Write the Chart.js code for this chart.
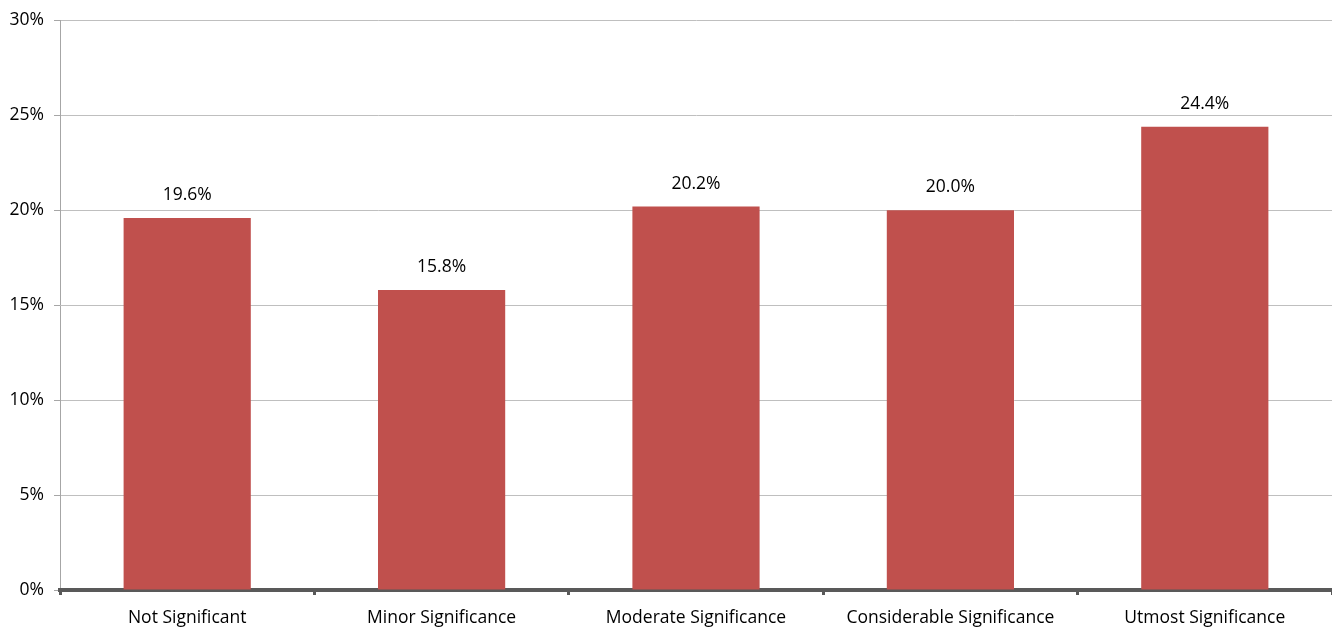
<!DOCTYPE html>
<html>
<head>
<meta charset="utf-8">
<script src="https://cdn.jsdelivr.net/npm/chart.js@4"></script>
<style>
  html, body { margin: 0; padding: 0; background: #fff; }
  #wrap { width: 1332px; height: 631px; position: relative; }
</style>
</head>
<body>
<div id="wrap"><canvas id="sigChart"></canvas></div>
<script>
const categories = ['Not Significant', 'Minor Significance', 'Moderate Significance', 'Considerable Significance', 'Utmost Significance'];
const shares = [19.6, 15.8, 20.2, 20.0, 24.4];
const yTicks = [0, 5, 10, 15, 20, 25, 30];

const FONT = '"Open Sans", sans-serif';
const FSIZE = 17.5;

// draw the value labels above each bar
const barLabels = {
  id: 'barLabels',
  afterDatasetsDraw(chart) {
    const ctx = chart.ctx;
    const meta = chart.getDatasetMeta(0);
    ctx.save();
    ctx.font = FSIZE + 'px ' + FONT;
    ctx.fillStyle = '#000';
    ctx.textAlign = 'center';
    ctx.textBaseline = 'middle';
    meta.data.forEach((bar, i) => {
      ctx.fillText(shares[i].toFixed(1) + '%', bar.x, bar.y - 23);
    });
    ctx.restore();
  }
};

const ctx = document.getElementById('sigChart').getContext('2d');
const myChart = new Chart(ctx, {
  type: 'bar',
  data: {
    labels: categories,
    datasets: [{
      data: shares,
      backgroundColor: '#C0504D',
      borderWidth: 0,
      barPercentage: 1,
      categoryPercentage: 0.5
    }]
  },
  options: {
    responsive: true,
    maintainAspectRatio: false,
    animation: false,
    layout: { padding: { top: 19, right: -3, left: 0, bottom: 0 } },
    plugins: {
      legend: { display: false },
      tooltip: { enabled: false }
    },
    scales: {
      y: {
        min: 0,
        max: 30,
        afterFit(scale) { scale.width = 60; },
        afterBuildTicks(scale) { scale.ticks = yTicks.map(v => ({ value: v })); },
        ticks: {
          color: '#000',
          font: { family: FONT, size: FSIZE },
          padding: 10,
          callback: v => v + '%'
        },
        grid: { color: '#BFBFBF', lineWidth: 1, tickLength: 6, tickColor: '#A6A6A6' },
        border: { display: true, color: '#A6A6A6', width: 1 }
      },
      x: {
        afterFit(scale) { scale.height = 41; },
        ticks: {
          color: '#000',
          font: { family: FONT, size: FSIZE },
          padding: 13,
          maxRotation: 0
        },
        grid: {
          offset: true,
          drawOnChartArea: false,
          tickLength: 5,
          tickColor: '#595959',
          tickWidth: 3
        },
        border: { display: true, color: '#595959', width: 4 }
      }
    }
  },
  plugins: [barLabels]
});
</script>
</body>
</html>
